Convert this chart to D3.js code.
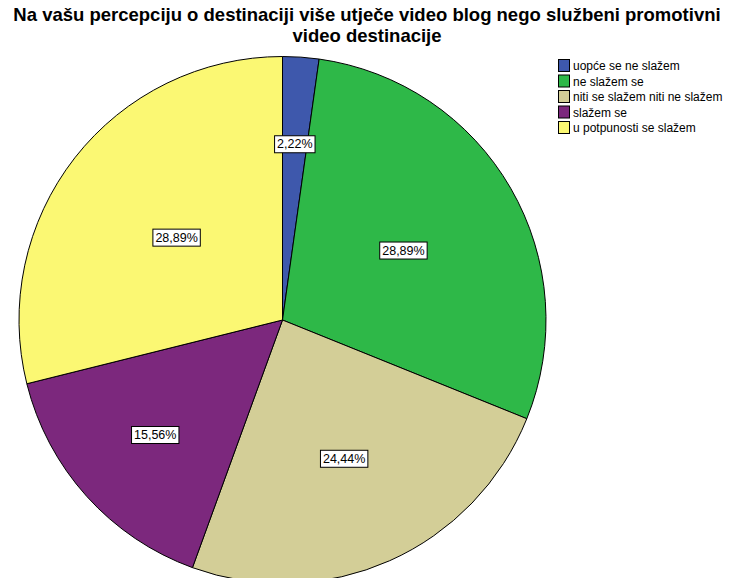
<!DOCTYPE html>
<html>
<head>
<meta charset="utf-8">
<script src="https://cdn.jsdelivr.net/npm/d3@7"></script>
<style>
  body { margin: 0; background: #fff; }
  text { font-family: "Liberation Sans", Arial, sans-serif; }
</style>
</head>
<body>
<div id="chart"></div>
<script>
const titleLines = ["Na vašu percepciju o destinaciji više utječe video blog nego službeni promotivni", "video destinacije"];
const categories = ["uopće se ne slažem", "ne slažem se", "niti se slažem niti ne slažem", "slažem se", "u potpunosti se slažem"];
const percents = [2.22, 28.89, 24.44, 15.56, 28.89];
const colors = ["#3e58ac", "#2eb848", "#d3ce97", "#7c287d", "#fbf873"];
// how far out each label sits, as a share of the radius
const labelDist = [0.67, 0.53, 0.575, 0.65, 0.51];

const width = 734, height = 578;
const cx = 282.5, cy = 320, radius = 263.5;

const svg = d3.select("#chart").append("svg")
    .attr("width", width)
    .attr("height", height);

// title, one text per line
svg.selectAll("text.title")
    .data(titleLines)
    .join("text")
    .attr("class", "title")
    .attr("x", 367)
    .attr("y", (d, i) => 21 + i * 21)
    .attr("text-anchor", "middle")
    .attr("font-size", 18.5)
    .attr("font-weight", "bold")
    .attr("fill", "#000")
    .text(d => d);

const pie = d3.pie().sort(null).value(d => d);
const arcs = pie(percents);
const arc = d3.arc().innerRadius(0).outerRadius(radius);

const g = svg.append("g").attr("transform", `translate(${cx},${cy})`);

g.selectAll("path.slice")
    .data(arcs)
    .join("path")
    .attr("class", "slice")
    .attr("d", arc)
    .attr("fill", (d, i) => colors[i])
    .attr("stroke", "#000")
    .attr("stroke-width", 1);

// labels
const fmt = v => v.toFixed(2).replace(".", ",") + "%";
const lab = g.selectAll("g.lab")
    .data(arcs)
    .join("g")
    .attr("class", "lab")
    .attr("transform", (d, i) => {
        const a = (d.startAngle + d.endAngle) / 2;
        const r = radius * labelDist[i];
        return `translate(${r * Math.sin(a)},${-r * Math.cos(a)})`;
    });
lab.append("text")
    .attr("text-anchor", "middle")
    .attr("dy", "0.35em")
    .attr("font-size", 12.5)
    .attr("fill", "#000")
    .text(d => fmt(d.data));
lab.each(function () {
    const t = d3.select(this).select("text");
    const b = t.node().getBBox();
    d3.select(this).insert("rect", "text")
        .attr("x", b.x - 2.5)
        .attr("y", b.y - 1.5)
        .attr("width", b.width + 5)
        .attr("height", b.height + 3)
        .attr("fill", "#fff")
        .attr("stroke", "#000")
        .attr("stroke-width", 1);
});

// legend
const legend = svg.append("g").attr("transform", "translate(558,59)");
const item = legend.selectAll("g")
    .data(categories)
    .join("g")
    .attr("transform", (d, i) => `translate(0,${i * 15.5})`);
item.append("rect")
    .attr("x", 0.5)
    .attr("y", 0.5)
    .attr("width", 11)
    .attr("height", 12)
    .attr("fill", (d, i) => colors[i])
    .attr("stroke", "#000")
    .attr("stroke-width", 1);
item.append("text")
    .attr("x", 15)
    .attr("y", 7)
    .attr("dy", "0.35em")
    .attr("font-size", 12)
    .attr("fill", "#000")
    .text(d => d);
</script>
</body>
</html>
